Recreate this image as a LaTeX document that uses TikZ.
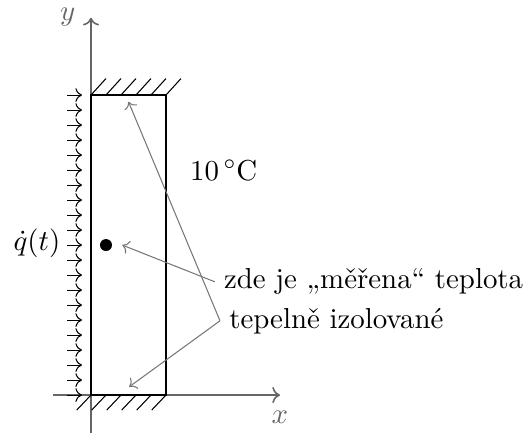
\documentclass[tikz,border=0pt]{standalone}
\usepackage{tikz}
\usetikzlibrary{arrows.meta, positioning, calc}
\definecolor{axisgrey}{HTML}{666666}
\definecolor{pointgrey}{HTML}{777777}
\tikzset{
  wall/.style={thick, draw=black},
  hatch/.style={thin, draw=black},
  axis/.style={->, semithick, draw=axisgrey},
  flux/.style={->, thin, draw=black},
  pointer/.style={->, thin, draw=pointgrey},
  lbl/.style={font=\fontsize{10.95}{13.6}\selectfont},
  axlbl/.style={lbl, text=axisgrey},
  probe/.style={circle, fill=black, inner sep=0pt, minimum size=1.6mm},
}

\begin{document}
\begin{tikzpicture}
  \useasboundingbox (-1.213,-0.493) rectangle (5.80,5.267);
  % osy
  \draw[axis] (-0.5,0) -- (2.52,0);
  \draw[axis] (0,-0.5) -- (0,5.03);
  \node[axlbl] (xl) at (2.52,-0.29) {$x$};
  \node[axlbl] (yl) at (-0.31,5.04) {$y$};
  % stena a izolace
  \foreach \x in {0,0.2,...,1.01}{
    \draw[hatch] (\x,4) -- ++(0.2,0.22);
    \draw[hatch] (\x,0) -- ++(-0.19,-0.2);
  }
  \draw[wall] (0,0) rectangle (1,4);
  % tepelny tok
  \foreach \y in {0,0.2,...,4.01}{ \draw[flux] (-0.32,\y) -- (-0.12,\y); }
  \node[lbl, inner sep=1pt] (q) at (-0.72,2.03) {$\dot q(t)$};
  \node[probe] (dot) at (0.2,2.0) {};
  \node[lbl] (tc) at (1.77,3.0) {$10\,^{\circ}\mathrm{C}$};
  \node[lbl, anchor=west] (zde) at (1.65,1.51) {zde je „měřena“ teplota};
  \node[lbl, anchor=west] (izol) at (1.72,0.99) {tepelně izolované};
  \coordinate (topend) at (0.5,3.91);
  \coordinate (botend) at (0.51,0.11);
  \draw[pointer] (zde.west) -- ([xshift=1.3mm]dot.east);
  \draw[pointer] (izol.west) -- (topend);
  \draw[pointer] (izol.west) -- (botend);
\end{tikzpicture}
\end{document}
